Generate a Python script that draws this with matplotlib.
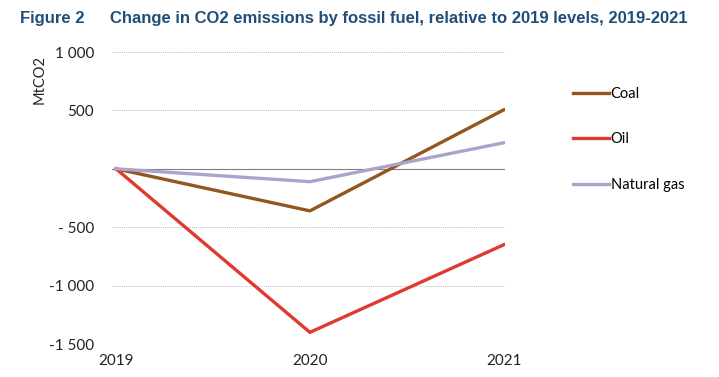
import matplotlib.pyplot as plt
from matplotlib import font_manager

# Дані
years = [2019, 2020, 2021]
coal = [0, -360, 505]
oil = [0, -1400, -650]
gas = [0, -110, 223]
ytick_vals = [1000, 500, -500, -1000, -1500]
ytick_labels = ['1 000', '500', '- 500', '-1 000', '-1 500']

names = {f.name for f in font_manager.fontManager.ttflist}
title_font = 'Liberation Sans Narrow' if 'Liberation Sans Narrow' in names else 'Liberation Sans'
plt.rcParams['font.family'] = ['Lato', 'DejaVu Sans']

fig = plt.figure(figsize=(7.19, 3.77), dpi=100)
ax = fig.add_axes([0.156, 0.0875, 0.546, 0.7745])

ax.plot(years, coal, color='#94561f', lw=2.4, label='Coal')
ax.plot(years, oil, color='#e03a30', lw=2.4, label='Oil')
ax.plot(years, gas, color='#aaa4cc', lw=2.4, label='Natural gas')
ax.axhline(0, color='#7f7f7f', lw=0.8, zorder=1)

ax.set_xlim(2018.98, 2021.005)
ax.set_ylim(-1500, 1000)
ax.set_yticks(ytick_vals, ytick_labels)
ax.set_xticks(years, [str(y) for y in years])
ax.grid(axis='y', color='#b0b0b0', ls=(0, (0.8, 1.2)), lw=0.7)
ax.set_axisbelow(True)
for s in ax.spines.values():
    s.set_visible(False)
ax.tick_params(length=0, labelsize=11, colors='#222222')
ax.tick_params(axis='y', pad=13)
ax.tick_params(axis='x', pad=7)

fig.text(0.055, 0.79, 'MtCO2', rotation=90, ha='center', va='center', fontsize=10.5, color='#222222')

ax.legend(loc='upper left', bbox_to_anchor=(1.14, 0.925), frameon=False, handlelength=2.5,
          handletextpad=0.1, labelspacing=2.15, fontsize=10.5)

fig.text(0.028, 0.952, 'Figure 2', fontsize=12, fontweight='bold', color='#1f4e79',
         family=title_font, va='center')
fig.text(0.153, 0.952, 'Change in CO2 emissions by fossil fuel, relative to 2019 levels, 2019-2021',
         fontsize=12, fontweight='bold', color='#1f4e79', family=title_font, va='center')

fig.savefig('out.png', dpi=100)
